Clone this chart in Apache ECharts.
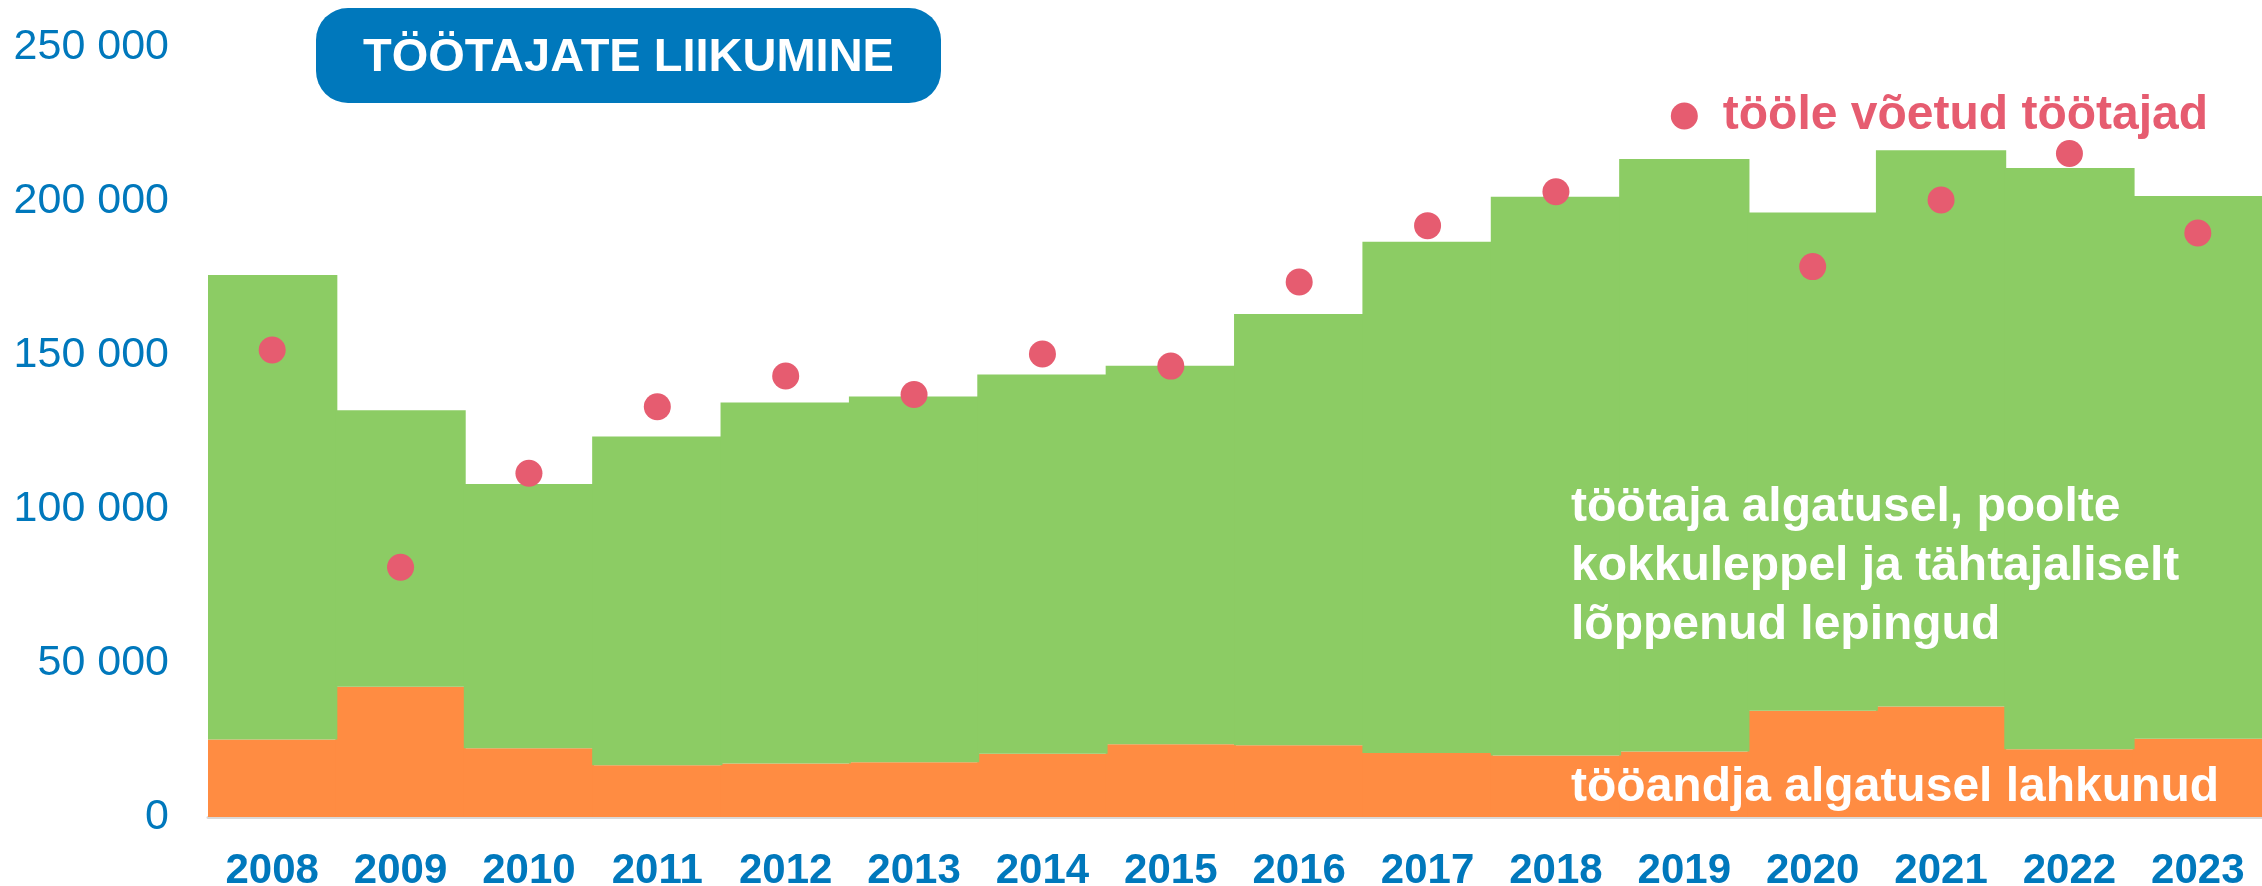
<!DOCTYPE html>
<html>
<head>
<meta charset="utf-8">
<style>
html,body{margin:0;padding:0;background:#fff;}
#c{width:2262px;height:886px;}
</style>
<script src="https://cdn.jsdelivr.net/npm/echarts@6/dist/echarts.min.js"></script>
</head>
<body>
<div id="c"></div>
<script>
var years = ['2008','2009','2010','2011','2012','2013','2014','2015','2016','2017','2018','2019','2020','2021','2022','2023'];
// töösuhte lõpetamised kokku (stack top)
var leftTotal = [176000,132100,108100,123500,134600,136500,143700,146500,163300,186800,201400,213600,196300,216500,210700,201600];
// tööandja algatusel lahkunud
var employerInitiated = [25200,42300,22300,16800,17400,17800,20500,23600,23300,20800,20000,21300,34500,35900,22000,25400];
// tööle võetud töötajad
var hired = [151600,81100,111600,133200,143200,137200,150300,146400,173700,192000,203000,227600,178700,200300,215400,189600];
var yTicks = [0,50000,100000,150000,200000,250000];

var otherReasons = leftTotal.map(function(t,i){ return t - employerInitiated[i]; });

var FONT = "'Liberation Sans', Arial, sans-serif";
var BLUE = '#0078BC', GREEN = '#8CCC64', ORANGE = '#FF8C42', RED = '#E65C70';

var chart = echarts.init(document.getElementById('c'), null, {renderer:'canvas'});
chart.setOption({
  animation: false,
  grid: {left: 208, right: 0, top: 47, bottom: 69, containLabel: false, outerBoundsMode: 'none'},
  xAxis: {
    type: 'category', data: years,
    axisLine: {show: true, lineStyle: {color: '#D9D9D9', width: 3}},
    axisTick: {show: false},
    axisLabel: {color: BLUE, fontFamily: FONT, fontWeight: 'bold', fontSize: 42, margin: 54, verticalAlign: 'middle', lineHeight: 42}
  },
  yAxis: {
    type: 'value', min: yTicks[0], max: yTicks[yTicks.length-1], interval: 50000,
    axisLine: {show: false}, axisTick: {show: false}, splitLine: {show: false},
    axisLabel: {
      color: BLUE, fontFamily: FONT, fontSize: 43, margin: 39, verticalAlign: 'middle',
      formatter: function(v){ return String(v).replace(/\B(?=(\d{3})+(?!\d))/g, ' '); }
    }
  },
  series: [
    {name: 'tööandja algatusel lahkunud', type: 'bar', stack: 'lahk', data: employerInitiated,
     barWidth: '101.5%', itemStyle: {color: ORANGE}},
    {name: 'töötaja algatusel, poolte kokkuleppel ja tähtajaliselt lõppenud lepingud', type: 'bar', stack: 'lahk', data: otherReasons,
     barWidth: '101.5%', itemStyle: {color: GREEN}},
    {name: 'tööle võetud töötajad', type: 'scatter', z: 5, symbol: 'circle', symbolSize: 27,
     itemStyle: {color: RED, opacity: 1},
     data: hired.map(function(v,i){
       var d = {value: v};
       if (i === 11) {
         d.label = {show: true, position: 'right', distance: 25, formatter: 'tööle võetud töötajad',
           color: RED, fontFamily: FONT, fontWeight: 'bold', fontSize: 48};
       }
       return d;
     })}
  ],
  graphic: [
    {type: 'rect', left: 316, top: 8, shape: {width: 625, height: 95, r: 32}, style: {fill: BLUE}, z: 10},
    {type: 'text', x: 628.5, y: 58, z: 11,
     style: {text: 'TÖÖTAJATE LIIKUMINE', fill: '#fff', font: 'bold 47px ' + FONT, textAlign: 'center', textVerticalAlign: 'middle'}},
    {type: 'text', x: 1571, y: 478, z: 11,
     style: {text: 'töötaja algatusel, poolte\nkokkuleppel ja tähtajaliselt\nlõppenud lepingud', fill: '#fff',
       font: 'bold 48px ' + FONT, lineHeight: 59, textAlign: 'left', textVerticalAlign: 'top'}},
    {type: 'text', x: 1571, y: 788, z: 11,
     style: {text: 'tööandja algatusel lahkunud', fill: '#fff', font: 'bold 48px ' + FONT, textAlign: 'left', textVerticalAlign: 'middle'}}
  ]
});
</script>
</body>
</html>
